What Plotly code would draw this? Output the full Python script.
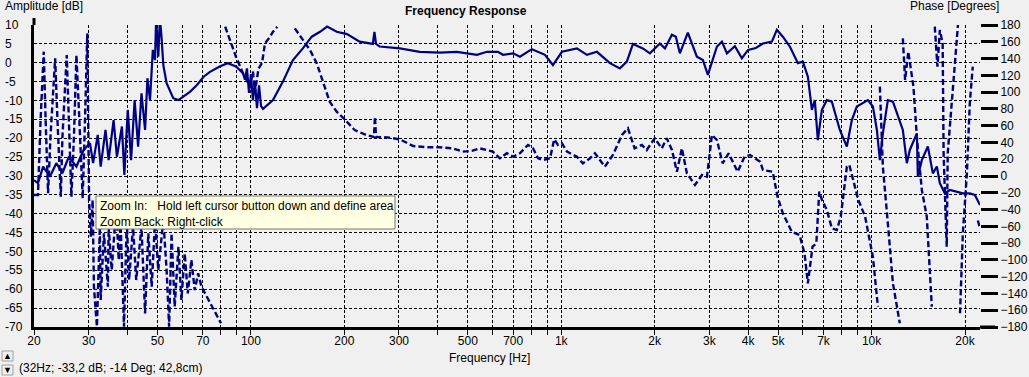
import math
import plotly.graph_objects as go

# ---------------- data ----------------
amp_freq = [
    20, 20.6, 21.4, 22.5, 23.6, 24.7, 25.9, 27.4, 28.9, 30.3,
    31.0, 32.1, 32.8, 34.0, 34.8, 36.1, 37.0, 38.4, 39.1, 40.1,
    41.1, 42.2, 43.3, 44.4, 45.6, 46.4, 47.3, 48.3, 49.1, 49.5,
    50.3, 50.9, 51.6, 52.2, 53.5, 56.2, 58.4, 60.6, 63.6, 67.0,
    70.4, 73.8, 79.3, 84.2, 89.5, 94.3, 95.7, 97.1, 98.6, 100,
    101.5, 103, 104.6, 106.2, 107.8, 109.4, 117.8, 126.8, 136.6, 147,
    157, 167, 176, 189, 204, 224, 247, 250, 253, 260,
    302, 350, 406, 461, 535, 576, 625, 649, 700, 736,
    804, 886, 940, 1005, 1123, 1210, 1303, 1435, 1545, 1627,
    1702, 1832, 1930, 2078, 2158, 2273, 2340, 2411, 2558, 2735,
    2860, 2968, 3058, 3174, 3294, 3418, 3626, 3820, 4000, 4236,
    4465, 4772, 4952, 5176, 5452, 5786, 6004, 6232, 6420, 6561,
    6711, 6914, 7175, 7446, 7900, 8081, 8323, 8636, 8962, 9726,
    10094, 10400, 10632, 10872, 11281, 11712, 12609, 12988, 13280, 13988,
    14092, 14516, 15180, 15754, 16230, 16592, 17220, 17868, 18820, 19680,
    20720, 21512, 22350,
]
amp_db = [
    -31.1, -31.9, -27.5, -30.2, -26.6, -29.2, -24.9, -27.5, -23.1, -21.3,
    -26.6, -19.1, -27.5, -17.8, -25.8, -15.2, -24.9, -16.9, -29.7, -12.5,
    -25.8, -9.9, -22.2, -8.1, -17.8, -4.1, -9.9, 3.4, 0.7, 12,
    1.6, 12, 6.0, -0.6, -5.4, -9.4, -9.9, -9.0, -7.7, -5.9,
    -3.7, -2.4, -1.0, -0.1, -1.0, -2.8, -4.5, -1.5, -8.0, -3.0,
    -10.0, -5.0, -12.0, -6.0, -11.5, -12.2, -9.9, -5.0, 0.7, 3.8,
    6.9, 8.2, 9.6, 8.2, 7.6, 5.6, 5.0, 8.2, 5.0, 4.3,
    3.8, 2.9, 2.7, 2.9, 2.1, 2.9, 2.9, 2.1, 2.5, 1.6,
    3.6, 2.1, -0.6, 2.9, 3.8, 2.1, 2.9, -0.1, -1.5, 0.3,
    5.0, 3.8, 2.5, 5.1, 3.8, 7.4, 6.9, 2.5, 8.0, 1.6,
    0.7, -3.2, -0.1, 4.3, 5.6, 2.5, 4.4, 1.2, 3.4, 3.9,
    5.1, 5.6, 8.7, 6.9, 4.3, -0.1, 0.3, -3.7, -12.5, -9.9,
    -20.5, -12.5, -9.9, -10.3, -17.8, -19.9, -22.2, -15.2, -11.6, -9.9,
    -11.6, -17.8, -25.8, -18.7, -9.9, -10.3, -17.8, -26.6, -23.1, -18.7,
    -30.2, -25.8, -22.2, -29.3, -27.5, -31.9, -34.6, -33.7, -34.2, -34.6,
    -34.6, -35.0, -37.7,
]

phase_freq = [
    20, 20.6, 21.0, 21.5, 21.8, 22.2, 22.6, 23.4, 23.8, 24.4,
    24.7, 25.5, 25.9, 26.4, 26.9, 27.4, 28.0, 28.7, 29.2, 29.7,
    29.9, 30.1, 30.5, 30.9, 31.2, 31.9, 32.6, 32.8, 33.6, 34.6,
    34.8, 35.6, 36.8, 37.5, 38.0, 39.0, 39.8, 40.5, 41.7, 42.7,
    44.4, 45.6, 46.7, 47.9, 49.1, 50.3, 52.2, 53.5, 54.5, 55.5,
    56.8, 58.4, 59.7, 61.2, 62.6, 64.3, 65.9, 67.6, 69.3, 72.1,
    74.6, 77.1, 80.1, None, 82.6, 85.5, 89.5, 94.3, 99.3, 101.5,
    103, 105.8, 108.6, 111, 115.1, 117.8, 121.6, None, 138.5, 147,
    155, 163, 170.7, 179.4, 189, 199, 215.9, 235.2, 249, 251,
    253, 274.6, 302, 333, 369.5, 406, 446.7, 481.4, 518.5, 546,
    602, 625, 634, 668, 700, 736, 781, 811, 842, 874,
    920, 949, 976, 1005, 1044, 1123, 1174, 1237, 1284, 1382,
    1467, 1569, 1640, 1723, 1818, 1885, 2000, 2108, 2188, 2273,
    2359, 2447, 2540, 2697, 2841, 2948, 3058, 3174, 3310, 3462,
    3700, 3897, 4060, 4376, 4465, 4800, 4976, 5176, 5531, 5860,
    6078, 6232, 6452, 6637, 6780, 6921, 7175, 7446, 7727, 7955,
    8323, 8477, 8740, 9062, 9531, 10094, 10480, None, 10632, 10872,
    11281, 11712, 12330, None, 12609, 12820, 13130, 13640, 13988, 14516,
    15060, 15400, 15630, None, 15980, 16300, 16592, 16940, 17060, 17460,
    17590, 18270, 18980, None, 19270, 19680, 20280, 20720, 21180, None,
    22000, 22300,
]
phase_deg = [
    -22.6, -22.6, 66.8, 148.2, 66.8, -20.6, 46.8, 140.3, 66.8, -24.6,
    46.8, 144.2, 66.8, -24.6, 46.8, 144.2, 66.8, -26.6, 66.8, 170.1,
    66.8, -28.6, -72.4, -28.6, -132, -179.6, -60.4, -147.8, -68.3, -132,
    -60.4, -112, -36.6, -100, -52.5, -179.6, -52.5, -124, -60.4, -124,
    -60.4, -163.7, -68.3, -132, -52.5, -112, -52.5, -112, -179.6, -68.3,
    -155.7, -84.3, -147.8, -92.3, -140, -100, -136, -116, -132, -143.9,
    -155.7, -165.7, -175.6, None, 178, 162, 142.2, 122.4, 106.5, 125,
    100, 128, 134.7, 158.2, 165.7, 172, 178, None, 176, 162,
    150.2, 134.3, 112.4, 88.6, 76.6, 68.8, 54.8, 48.9, 46.5, 70.7,
    46.5, 46.1, 43.7, 35.8, 34.2, 34.2, 33, 29, 30.2, 33,
    29, 23, 21.1, 27.1, 23, 27.1, 37, 33, 21.1, 19.1,
    21.1, 43.7, 37, 39, 29, 23, 15.1, 21.1, 27.1, 11.1,
    25, 48.9, 56.9, 33, 37, 31, 45, 33, 45, 31,
    5.1, 33, 3.2, -10.7, 1.2, -0.8, 48.9, 42.9, 15.1, 27.1,
    5.1, 23, 25, 17, 7.2, 5.1, -24.6, -44.5, -66.4, -70.3,
    -92.2, -127.9, -84.3, -80.3, -18.7, -28.6, -40.5, -62.4, -64.4, -48.5,
    11.1, 13.1, -4.8, -28.6, -48.5, -96.2, -155.8, None, 106.5, 11.1,
    -56.4, -127.9, -175.6, None, 164.1, 114.4, 148.2, 106.5, 46.8, -16.7,
    -48.5, -112, -155.8, None, 178, 130.3, 174, 158.2, 27.1, -84.3,
    27.1, 106.5, 180, None, -163.7, -68.3, 3.2, 86.7, 130.3, None,
    -53, -61,
]

grid_freqs = [20, 30, 40, 50, 60, 70, 80, 90, 100, 200, 300, 400, 500, 600, 700,
              800, 900, 1000, 2000, 3000, 4000, 5000, 6000, 7000, 8000, 9000,
              10000, 20000]
grid_labels = ["20", "30", "", "50", "", "70", "", "", "100", "200", "300", "",
               "500", "", "700", "", "", "1k", "2k", "3k", "4k", "5k", "", "7k",
               "", "", "10k", "20k"]
amp_ticks = [10, 5, 0, -5, -10, -15, -20, -25, -30, -35, -40, -45, -50, -55,
             -60, -65, -70]
phase_ticks = list(range(-180, 181, 20))

# ---------------- figure ----------------
W, H = 1029, 377
L, R, T, B = 34, 49, 25, 50
pw, ph = W - L - R, H - T - B
FONT = "Liberation Sans, Arial, sans-serif"
NAVY = "#000080"


def px(x):
    return (x - L) / pw


def py(y):
    return (T + ph - y) / ph


fig = go.Figure()
fig.add_trace(go.Scatter(x=amp_freq, y=amp_db, mode="lines",
                         line=dict(color=NAVY, width=2.2), hoverinfo="skip"))
fig.add_trace(go.Scatter(x=phase_freq, y=phase_deg, mode="lines", yaxis="y2",
                         connectgaps=False,
                         line=dict(color=NAVY, width=2.4, dash="6px,3px"),
                         hoverinfo="skip"))

fig.update_layout(
    width=W, height=H,
    margin=dict(l=L, r=R, t=T, b=B, pad=0),
    paper_bgcolor="#f0f0f0", plot_bgcolor="#f0f0f0",
    showlegend=False,
    font=dict(family=FONT, size=12, color="black"),
    xaxis=dict(type="log", range=[math.log10(20), math.log10(22350)],
               tickmode="array", tickvals=grid_freqs, ticktext=grid_labels,
               showgrid=True, gridcolor="black", gridwidth=1, griddash="3px,2px",
               ticks="outside", ticklen=5, tickcolor="black", tickwidth=1,
               ticklabelstandoff=-4,
               showline=True, linecolor="black", linewidth=3,
               zeroline=False, automargin=False,
               tickfont=dict(size=12, family=FONT)),
    yaxis=dict(range=[-70, 10], tickmode="array", tickvals=amp_ticks,
               showticklabels=False, ticks="",
               showgrid=True, gridcolor="black", gridwidth=1, griddash="3px,2px",
               showline=True, linecolor="black", linewidth=3, zeroline=False),
    yaxis2=dict(range=[-180, 180], overlaying="y", side="right",
                tickmode="array", tickvals=phase_ticks,
                ticks="outside", ticklen=17, tickwidth=3, tickcolor="black",
                showgrid=False, zeroline=False, showline=False,
                automargin=False,
                tickfont=dict(size=12, family=FONT)),
)

annotations = []
for v in amp_ticks:
    annotations.append(dict(xref="paper", yref="y", x=px(3), y=v, text=str(v),
                            xanchor="left", yanchor="middle", showarrow=False,
                            font=dict(size=12, family=FONT)))
annotations += [
    dict(xref="paper", yref="paper", x=px(3), y=py(6), text="Amplitude [dB]",
         xanchor="left", yanchor="middle", showarrow=False),
    dict(xref="paper", yref="paper", x=px(908), y=py(6), text="Phase [Degrees]",
         xanchor="left", yanchor="middle", showarrow=False),
    dict(xref="paper", yref="paper", x=px(466), y=py(11),
         text="<b>Frequency Response</b>", xanchor="center", yanchor="middle",
         showarrow=False),
    dict(xref="paper", yref="paper", x=px(489), y=py(358), text="Frequency [Hz]",
         xanchor="center", yanchor="middle", showarrow=False),
    dict(xref="paper", yref="paper", x=px(17), y=py(368),
         text="(32Hz; -33,2 dB; -14 Deg; 42,8cm)", xanchor="left",
         yanchor="middle", showarrow=False),
    dict(xref="paper", yref="paper", x=px(7.5), y=py(356), text="▲",
         xanchor="center", yanchor="middle", showarrow=False,
         font=dict(size=9, color="black")),
    dict(xref="paper", yref="paper", x=px(7.5), y=py(370), text="▼",
         xanchor="center", yanchor="middle", showarrow=False,
         font=dict(size=9, color="black")),
    dict(xref="paper", yref="paper", x=px(98), y=py(197),
         text="Zoom In:\u00a0\u00a0\u00a0Hold left cursor button down and define area"
              "<br>Zoom Back: Right-click",
         xanchor="left", yanchor="top", align="left", showarrow=False,
         font=dict(size=12, family=FONT, color="black")),
]

shapes = [
    # tooltip box
    dict(type="rect", xref="paper", yref="paper", x0=px(96), x1=px(395),
         y0=py(229), y1=py(196), fillcolor="#ffffe1",
         line=dict(color="#767676", width=1), layer="above"),
    # axis extensions
    dict(type="line", xref="paper", yref="paper", x0=1, x1=px(995), y0=0, y1=0,
         line=dict(color="black", width=3)),
    dict(type="line", xref="paper", yref="paper", x0=0, x1=0, y0=1, y1=py(18),
         line=dict(color="black", width=3)),
    # scroll buttons
    dict(type="rect", xref="paper", yref="paper", x0=px(2), x1=px(13),
         y0=py(361), y1=py(351), fillcolor="#f0f0f0",
         line=dict(color="#a0a0a0", width=1)),
    dict(type="rect", xref="paper", yref="paper", x0=px(2), x1=px(13),
         y0=py(375), y1=py(365), fillcolor="#f0f0f0",
         line=dict(color="#a0a0a0", width=1)),
]

fig.update_layout(annotations=annotations, shapes=shapes)
fig.write_html(
    "out.html",
    config={"displayModeBar": False},
    post_script="document.body.style.margin='0';document.body.style.overflow='hidden';",
)
